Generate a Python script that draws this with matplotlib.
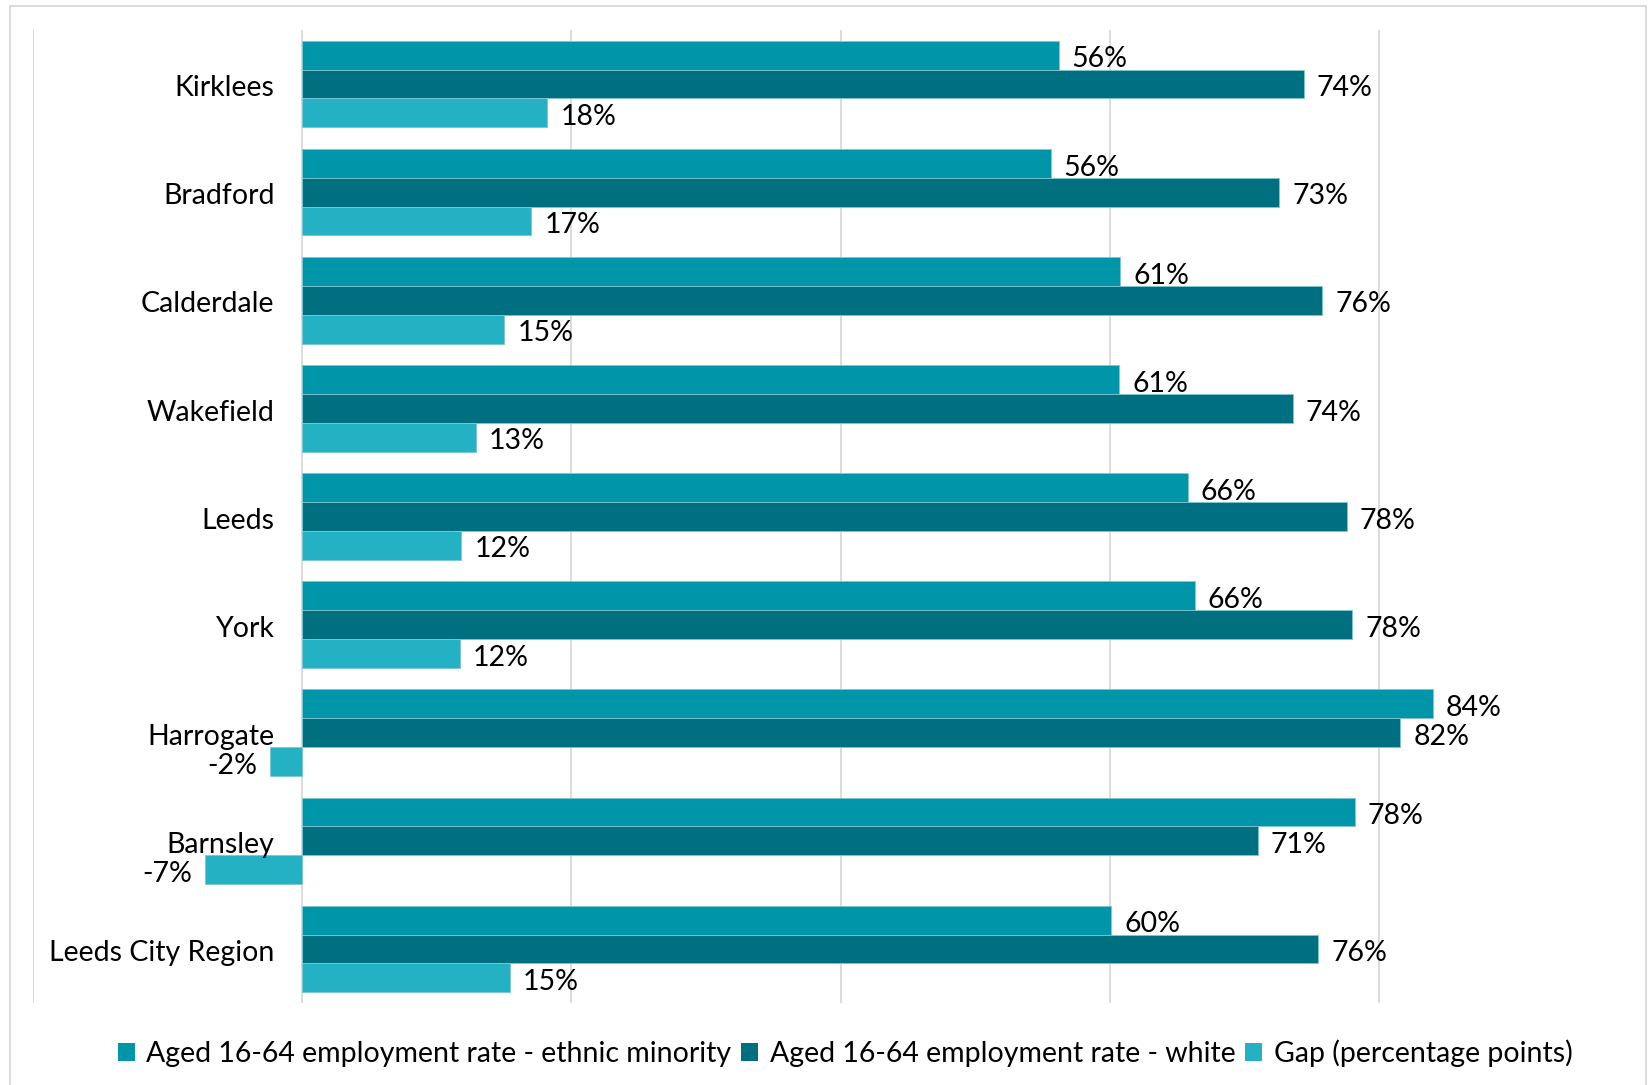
import matplotlib
matplotlib.use("Agg")
import matplotlib.pyplot as plt
from matplotlib.patches import Rectangle, Patch
import numpy as np

plt.rcParams['font.family'] = ['Lato', 'DejaVu Sans']

categories = ["Kirklees", "Bradford", "Calderdale", "Wakefield", "Leeds", "York",
              "Harrogate", "Barnsley", "Leeds City Region"]
ethnic_minority = [56.2, 55.6, 60.8, 60.7, 65.8, 66.3, 84.0, 78.2, 60.1]
white = [74.4, 72.6, 75.8, 73.6, 77.6, 78.0, 81.6, 71.0, 75.5]
gap = [18.2, 17.0, 15.0, 12.9, 11.8, 11.7, -2.4, -7.2, 15.4]
series_names = ["Aged 16-64 employment rate - ethnic minority",
                "Aged 16-64 employment rate - white",
                "Gap (percentage points)"]
colors = ["#0095A8", "#006F80", "#24B1C4"]

W, H = 1648, 1085
fig = plt.figure(figsize=(W / 100, H / 100), dpi=100)
ax = fig.add_axes([33.2 / W, 1 - 1003 / H, (W - 33.2) / W, (1003 - 30) / H])

n = len(categories)
y = np.arange(n)
bh = 0.8 / 3
series = [ethnic_minority, white, gap]
fs = 20.5
for i, (vals, c) in enumerate(zip(series, colors)):
    pos = y + (i - 1) * bh
    ax.barh(pos, vals, height=bh, color=c, edgecolor="#7fc6d1", linewidth=0.6, zorder=3)
    for p, v in zip(pos, vals):
        if v >= 0:
            ax.annotate(f"{v:.0f}%", (v, p), xytext=(9.5, -3), textcoords="offset points",
                        ha="left", va="center", fontsize=fs, color="#000000")
        else:
            ax.annotate(f"{v:.0f}%", (v, p), xytext=(-9.5, -3), textcoords="offset points",
                        ha="right", va="center", fontsize=fs, color="#000000")

for yi, cat in zip(y, categories):
    ax.annotate(cat, (0, yi), xytext=(-20, -3), textcoords="offset points",
                ha="right", va="center", fontsize=fs, color="#000000")

ax.set_xlim(-20, 100)
ax.set_ylim(n - 0.5, -0.5)
ax.set_xticks([-20, 0, 20, 40, 60, 80])
ax.xaxis.grid(True, color="#d9d9d9", linewidth=1.3, zorder=0)
ax.set_axisbelow(True)
ax.tick_params(left=False, bottom=False, labelleft=False, labelbottom=False)
for s in ax.spines.values():
    s.set_visible(False)

handles = [Patch(facecolor=c, edgecolor="none") for c in colors]
fig.legend(handles, series_names, loc="center", bbox_to_anchor=(845 / W, 1 - 1053 / H),
           ncol=3, frameon=False, fontsize=fs, handlelength=0.6, handleheight=0.6,
           handletextpad=0.4, columnspacing=0.35)

fig.patches.append(Rectangle((9.6 / W, -0.02), (1646 - 9.6) / W, 1.02 - 6 / H,
                             transform=fig.transFigure, fill=False,
                             edgecolor="#d9d9d9", linewidth=1.3))

fig.savefig("out.png", dpi=100)
